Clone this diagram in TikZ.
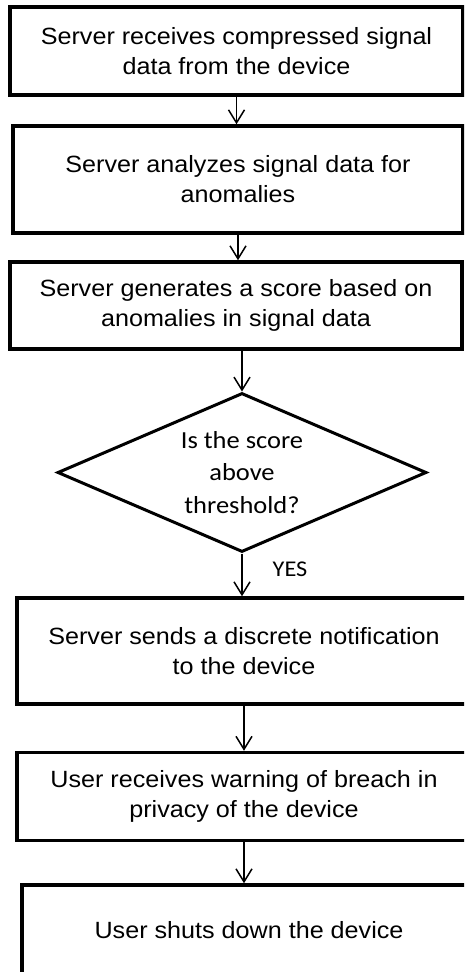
\documentclass[tikz,border=0pt]{standalone}
\usepackage{fontspec}
\setmainfont{Liberation Sans}[FakeStretch=1.07]
\newfontfamily\diafont{Carlito}[FakeStretch=1.08]
\usetikzlibrary{arrows.meta}
\usetikzlibrary{shapes.geometric}
\usetikzlibrary{calc}

\begin{document}
\begin{tikzpicture}[x=1pt,y=-1pt,>={Straight Barb[length=13pt,width=16pt]},
    box/.style={draw,line width=3.5pt,inner sep=0pt,align=center,
        font=\fontsize{23.5}{30}\selectfont},
    decision/.style={draw,diamond,aspect=2.3,line width=3pt,inner sep=0pt,align=center,
        font=\diafont\fontsize{24.5}{32.5}\selectfont},
    flow/.style={->,line width=1.5pt}]
                        \useasboundingbox (0,0) rectangle (464,972);
                        \clip (0,0) rectangle (464,972);
                        \node[box,minimum width=453pt,minimum height=88pt] (receive) at (236.5,51)
                            {Server receives compressed signal\\data from the device};
                        \node[box,minimum width=450pt,minimum height=107pt] (analyze) at (238,179.5)
                            {Server analyzes signal data for\\anomalies};
                        \node[box,minimum width=452pt,minimum height=87pt] (score) at (236,305.5)
                            {Server generates a score based on\\anomalies in signal data};
                        \node[decision,minimum width=369pt,minimum height=159pt] (check) at (242,472.5)
                            {Is the score\\above\\threshold?};
                        \node[box,minimum width=454pt,minimum height=106pt] (notify) at (244,651)
                            {Server sends a discrete notification\\to the device};
                        \node[box,minimum width=454pt,minimum height=88pt] (warn) at (244,796.5)
                            {User receives warning of breach in\\privacy of the device};
                        \node[box,minimum width=454pt,minimum height=90pt] (shutdown) at (249,930)
                            {User shuts down the device};
                        \node[font=\diafont\fontsize{22.5}{26}\selectfont] (yes) at (290,569.5) {YES};
                        \draw[flow] (receive.south) -- (receive.south |- analyze.north);
                        \draw[flow] (analyze.south) -- (analyze.south |- score.north);
                        \draw[flow] (check.north |- score.south) -- (check.north);
                        \draw[flow] (check.south) -- (check.south |- notify.north);
                        \draw[flow] (notify.south) -- (warn.north);
                        \draw[flow] (warn.south) -- (warn.south |- shutdown.north);
                    \end{tikzpicture}
\end{document}
